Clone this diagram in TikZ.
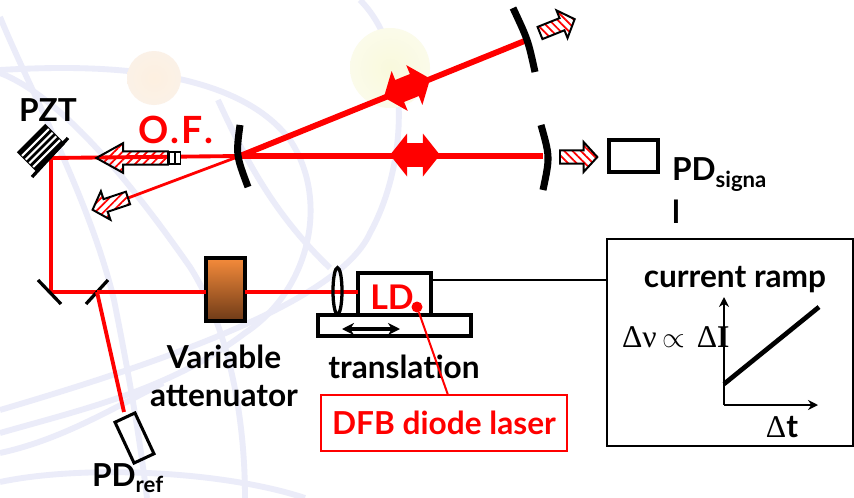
\documentclass[tikz,border=0pt]{standalone}
\usepackage{fontspec}
\setmainfont{Lato}
\newfontfamily\symbfont{Liberation Serif}
\usetikzlibrary{arrows.meta, positioning, calc, patterns.meta, shapes.arrows, shapes.geometric}
\definecolor{beamred}{HTML}{FF0000}
\definecolor{orbit}{HTML}{EBECF9}
\definecolor{attlight}{HTML}{F58B3B}
\definecolor{attdark}{HTML}{6E3A17}
\definecolor{ballyellow}{HTML}{F9F9DC}
\definecolor{ballyedge}{HTML}{FBFBEA}
\definecolor{ballorange}{HTML}{FDF0E0}
\definecolor{balloedge}{HTML}{FBF1E7}
\begin{document}
\begin{tikzpicture}[
  x=0.03cm, y=-0.03cm,
  >={Stealth[length=3mm, width=3mm]},
  every node/.style={text=black, font=\bfseries\fontsize{27}{32}\selectfont, inner sep=0pt, outer sep=0pt},
  beam/.style={beamred, line width=3.3pt},
  thickbeam/.style={beamred, line width=4.4pt},
  mirror/.style={black, line width=6pt},
  flatmirror/.style={black, line width=2.8pt},
  outarrow/.style={shape=single arrow, anchor=tail, draw=black, line width=1.7pt, inner ysep=0.17cm,
    pattern={Lines[angle=#1, distance=5pt, line width=1.5pt]}, pattern color=beamred,
    minimum height=1.12cm, minimum width=0.72cm, single arrow tip angle=95},
  lobe/.style={shape=double arrow, fill=beamred, inner ysep=0.3cm, minimum height=1.5cm, minimum width=1.29cm,
    double arrow tip angle=103},
  frame/.style={draw=black, fill=white, line width=3.2pt},
  redlabel/.style={text=beamred, font=\bfseries\fontsize{32}{34}\selectfont},
]

% Background
\useasboundingbox (0,0) rectangle (854,498);
\fill[white] (0,0) rectangle (854,498);
\begin{scope}[orbit, line width=5pt]
  \draw (0,70) .. controls (70,66) and (230,60) .. (290,140) .. controls (330,200) and (310,290) .. (245,333) .. controls (170,390) and (80,410) .. (0,433);
  \draw (0,17) .. controls (30,90) and (90,200) .. (114,300) .. controls (130,380) and (140,440) .. (147,498);
  \draw (360,0) .. controls (410,50) and (410,160) .. (370,233) .. controls (340,300) and (170,360) .. (0,410);
  \draw (0,73) .. controls (70,100) and (150,210) .. (190,267) .. controls (230,330) and (245,420) .. (245,498);
  \draw (218,100) .. controls (250,170) and (280,220) .. (330,268);
  \draw (0,453) .. controls (60,440) and (110,410) .. (163,383);
  \draw (0,482) .. controls (80,465) and (220,470) .. (305,498);
\end{scope}
\shade[inner color=ballorange, outer color=balloedge] (154,78) circle (27);
\shade[inner color=ballyellow, outer color=ballyedge] (390,68) circle (40);

% Cavity points
\coordinate (input) at (240,156);
\coordinate (endtop) at (527,40);
\coordinate (endright) at (543,156);
\coordinate (corner) at (51,158);
\coordinate (turn) at (51,292);
\coordinate (split) at (97,292);
\coordinate (refend) at (124,412);
\coordinate (rejectend) at (128,198);

% Beams
\draw[thickbeam, line width=5pt] (input) -- (endtop);
\draw[thickbeam] (input) -- (endright);
\draw[beam] (input) -- (corner) -- (turn) -- (split);
\draw[beam, line width=2.4pt] (input) -- (rejectend);

% Mirrors
\draw[mirror] (240,125) .. controls (236,155) .. (248,187);
\draw[mirror] (513,8) .. controls (528,40) .. (535,72);
\draw[mirror] (541,125) .. controls (550,157) .. (543,190);
\draw[flatmirror] (38,280) -- (61,304);
\draw[flatmirror] (86,304) -- (108,280);

% Intensity lobes
\node[lobe, rotate=22] (lobetop) at (407,88) {};
\node[lobe] (loberight) at (415,155) {};

% PZT
\node[rectangle, draw=black, fill=black, line width=1.7pt, rotate=45, minimum width=1.14cm, minimum height=0.78cm] (pzt) at (41,148) {};
\foreach \k in {0.2,0.4,0.6,0.8}
  \draw[white, line width=1.8pt] ($(pzt.south west)!\k!(pzt.north west)$) -- ($(pzt.south east)!\k!(pzt.north east)$);
\draw[flatmirror] (32,177) -- (68,138);
\node (pztlabel) at (48,110) {PZT};

% Fibre output
\node[outarrow=45, rotate=180, minimum height=2.15cm, minimum width=0.76cm, single arrow tip angle=58] (fibre) at (168,158) {};
\node[rectangle, draw=black, fill=white, line width=0.9pt, minimum width=0.14cm, minimum height=0.36cm] (couplera) at (172,158) {};
\node[rectangle, draw=black, fill=white, line width=0.9pt, minimum width=0.14cm, minimum height=0.36cm] (couplerb) at (178,158) {};
\node[redlabel] (oflabel) at (176,130) {O\hspace{1.5pt}.\hspace{1.5pt}F\hspace{1.5pt}.};
\node[outarrow=45, rotate=198.4] (rejected) at (rejectend) {};
\node[outarrow=-45, rotate=21.8] (toptrans) at (540,33) {};
\node[outarrow=-45] (righttrans) at (560,157) {};

% Signal detector
\node[rectangle, draw=black, line width=3.2pt, minimum width=1.45cm, minimum height=0.95cm] (pdsignal) at (633.5,156) {};
\node[anchor=north west, align=left] (pdsignallabel) at (672,158) {PD\textsubscript{signa}\\[4pt]l};

% Lower beam line
\node[rectangle, draw=black, line width=3.2pt, top color=attlight, bottom color=attdark, minimum width=1.15cm, minimum height=1.9cm] (atten) at (225.5,289.5) {};
\node[align=center] (attenlabel) at (224,376) {Variable\\attenuator};
\node[frame, minimum width=2.18cm, minimum height=1.26cm] (ld) at (394.5,294) {};
\node[frame, minimum width=4.6cm, minimum height=0.62cm, below=0pt of ld.south] (stage) {};
\draw[beam] (split) -- (split -| atten.west);
\draw[beam] (split -| atten.east) -- (split -| ld.west);
\node[ellipse, draw=black, line width=2.8pt, minimum width=0.27cm, minimum height=1.4cm] (lens) at (337.5,291) {};
\draw[{Stealth[length=3.6mm,width=3.6mm]}-{Stealth[length=3.6mm,width=3.6mm]}, black, line width=2.6pt] (342,329) -- (400,329);
\node[redlabel, font=\bfseries\fontsize{29}{32}\selectfont] (ldlabel) at (392,297) {LD};
\node (translabel) at (404,367) {translation};

% Reference detector
\node[rectangle, draw=black, line width=2.6pt, rotate=25, minimum width=0.66cm, minimum height=1.35cm] (pdref) at (134.5,438) {};
\draw[beam] (split) -- (refend);
\node[anchor=west] (pdreflabel) at (92,478) {PD\textsubscript{ref}};

% Diode label
\node[draw=beamred, line width=1.7pt, text=beamred, minimum width=7.4cm, minimum height=1.68cm] (dfb) at (444,423) {DFB diode laser};
\node[circle, fill=beamred, minimum size=0.33cm] (lddot) at (417,307) {};
\coordinate (dfbtop) at (448,395);
\draw[beamred, line width=1.7pt] (lddot) -- (dfbtop);

% Ramp panel
\node[draw=black, line width=1.7pt, fill=white, minimum width=7.38cm, minimum height=6.21cm] (ramp) at (730,342.5) {};
\coordinate (ldwire) at (432,280);
\coordinate (rampwire) at (607,280);
\draw[black, line width=1.2pt] (ldwire) -- (rampwire);
\coordinate (origin) at (724,405);
\coordinate (ytop) at (724,297);
\coordinate (xend) at (818,405);
\draw[->, black, line width=1.7pt] (origin) -- (ytop);
\draw[->, black, line width=1.7pt] (origin) -- (xend);
\draw[black, line width=4pt] (724,384) -- (819,307);
\node (ramplabel) at (735,280) {current ramp};
\node[anchor=west] (deltanu) at (622,337) {{\symbfont\mdseries Δν}\hspace{5pt}$\propto$\hspace{10pt}{\symbfont\mdseries Δ}{\symbfont\bfseries I}};
\node (deltat) at (782,427) {{\symbfont\mdseries Δ}t};

\end{tikzpicture}
\end{document}
